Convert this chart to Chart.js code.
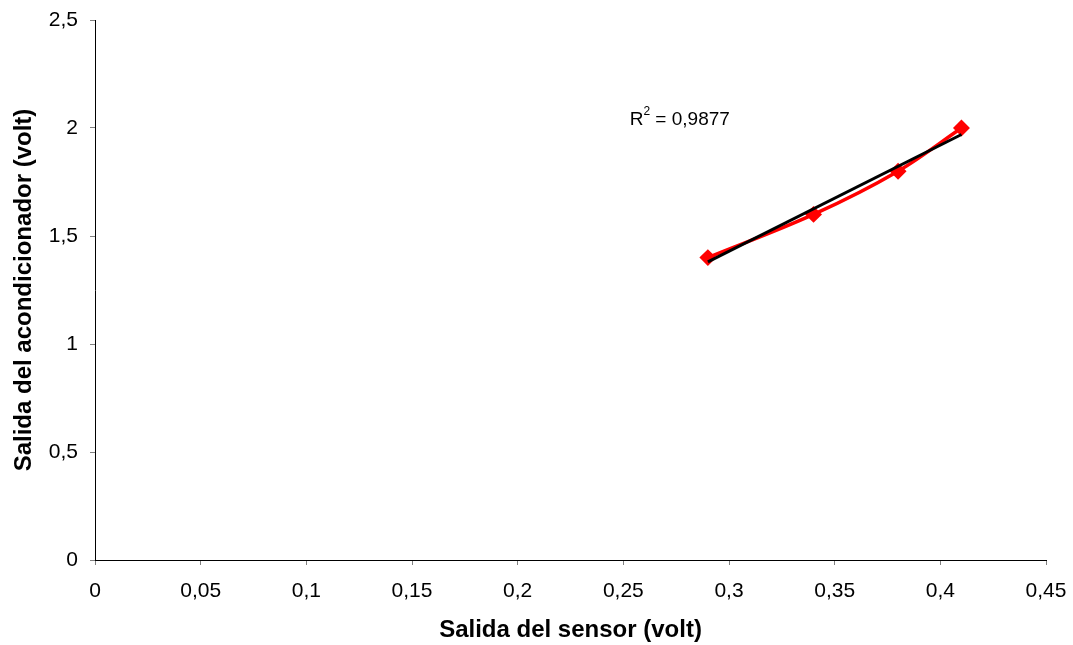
<!DOCTYPE html>
<html>
<head>
<meta charset="utf-8">
<script src="https://cdn.jsdelivr.net/npm/chart.js@4"></script>
<style>
  html, body { margin: 0; padding: 0; background: #fff; }
  #wrap { width: 1073px; height: 645px; }
</style>
</head>
<body>
<div id="wrap"><canvas id="graf"></canvas></div>
<script>
// Datos
const sensorX = [0.29, 0.34, 0.38, 0.41];
const acondY = [1.4, 1.6, 1.8, 2.0];
// Línea de tendencia (extremos leídos)
const trendX = [0.29, 0.41];
const trendY = [1.38, 1.97];
const r2Text = '0,9877';

const fuente = '"Liberation Sans", Arial, sans-serif';
const coma = v => String(Math.round(v * 100) / 100).replace('.', ',');

// Texto R² con superíndice
const r2Plugin = {
  id: 'r2',
  afterDatasetsDraw(chart) {
    const { ctx, scales } = chart;
    const x = scales.x.getPixelForValue(0.253);
    const y = scales.y.getPixelForValue(2.04);
    ctx.save();
    ctx.fillStyle = '#000';
    ctx.textBaseline = 'middle';
    ctx.font = '19px ' + fuente;
    ctx.fillText('R', x, y);
    let w = ctx.measureText('R').width;
    ctx.font = '12px ' + fuente;
    ctx.fillText('2', x + w, y - 8);
    w += ctx.measureText('2').width;
    ctx.font = '19px ' + fuente;
    ctx.fillText(' = ' + r2Text, x + w, y);
    ctx.restore();
  }
};

new Chart(document.querySelector('#graf'), {
  type: 'scatter',
  data: {
    datasets: [
      {
        data: sensorX.map((x, i) => ({ x, y: acondY[i] })),
        showLine: true,
        borderColor: '#ff0000',
        backgroundColor: '#ff0000',
        borderWidth: 3.5,
        tension: 0.35,
        pointStyle: 'rectRot',
        pointRadius: 6,
        order: 2
      },
      {
        data: trendX.map((x, i) => ({ x, y: trendY[i] })),
        showLine: true,
        borderColor: '#000',
        borderWidth: 3,
        pointRadius: 0,
        order: 1
      }
    ]
  },
  options: {
    responsive: true,
    maintainAspectRatio: false,
    animation: false,
    layout: { padding: { left: 0, right: 27, top: 20, bottom: 0 } },
    plugins: { legend: { display: false }, tooltip: { enabled: false } },
    scales: {
      x: {
        type: 'linear',
        min: 0, max: 0.45,
        afterFit: s => { s.height = 85; s.paddingLeft = 0; s.paddingRight = 0; },
        border: { color: '#000', width: 1 },
        grid: { drawOnChartArea: false, tickLength: 5, color: '#808080' },
        ticks: {
          stepSize: 0.05, color: '#000', padding: 14,
          font: { family: fuente, size: 21 },
          callback: v => coma(v)
        },
        title: {
          display: true, text: 'Salida del sensor (volt)', color: '#000',
          font: { family: fuente, size: 24, weight: 'bold' },
          padding: { top: 0, bottom: 0 }
        }
      },
      y: {
        type: 'linear',
        min: 0, max: 2.5,
        afterFit: s => { s.width = 95; s.paddingTop = 0; s.paddingBottom = 0; },
        border: { color: '#000', width: 1 },
        grid: { drawOnChartArea: false, tickLength: 5, color: '#808080' },
        ticks: {
          stepSize: 0.5, color: '#000', padding: 12,
          font: { family: fuente, size: 21 },
          callback: v => coma(v)
        },
        title: {
          display: true, text: 'Salida del acondicionador (volt)', color: '#000',
          font: { family: fuente, size: 24, weight: 'bold' },
          padding: { top: 10, bottom: 0 }
        }
      }
    }
  },
  plugins: [r2Plugin]
});
</script>
</body>
</html>
